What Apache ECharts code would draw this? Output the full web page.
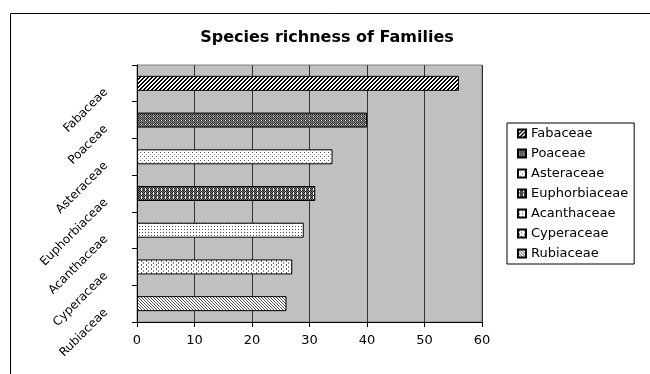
<!DOCTYPE html>
<html lang="en">
<head>
<meta charset="UTF-8">
<title>Species richness of Families</title>
<script src="https://cdn.jsdelivr.net/npm/echarts@6/dist/echarts.min.js"></script>
<style>
  html, body { margin: 0; padding: 0; background: #fff; }
  #main { width: 650px; height: 374px; }
</style>
</head>
<body>
<div id="main"></div>
<script>
var families = ['Fabaceae', 'Poaceae', 'Asteraceae', 'Euphorbiaceae', 'Acanthaceae', 'Cyperaceae', 'Rubiaceae'];
var counts = [56, 40, 34, 31, 29, 27, 26];
var xTicks = [0, 10, 20, 30, 40, 50, 60];

var FONT = 'DejaVu Sans, Verdana, sans-serif';

// small pixel tiles to imitate the excel fill patterns
function tile(w, h, bg, fn) {
    var c = document.createElement('canvas');
    c.width = w; c.height = h;
    var ctx = c.getContext('2d');
    ctx.fillStyle = bg;
    ctx.fillRect(0, 0, w, h);
    for (var y = 0; y < h; y++) {
        for (var x = 0; x < w; x++) {
            var col = fn(x, y);
            if (col) { ctx.fillStyle = col; ctx.fillRect(x, y, 1, 1); }
        }
    }
    return { image: c, repeat: 'repeat' };
}

var patterns = [
    // wide forward diagonal
    tile(4, 4, '#fff', function (x, y) { return ((x + y) % 4 < 2) ? '#000' : null; }),
    // dark checker
    tile(4, 4, '#8a8a8a', function (x, y) {
        if ((x + y) % 2 === 0 && y % 2 === 0) return '#222';
        if ((x + y) % 2 === 0) return '#444';
        if (x === 1 && y === 0) return '#eee';
        return null;
    }),
    // light sparse dots
    tile(4, 4, '#fff', function (x, y) {
        if (x === 0 && y === 0) return '#555';
        if (x === 2 && y === 2) return '#999';
        return null;
    }),
    // dark with light dashes
    tile(4, 4, '#777', function (x, y) {
        if (x === 1 && y < 3) return '#eee';
        if ((x + y) % 2 === 0) return '#222';
        return null;
    }),
    // small dots
    tile(3, 3, '#fff', function (x, y) { return (x === 1 && y === 1) ? '#444' : null; }),
    // vertical gray dashes
    tile(5, 4, '#fff', function (x, y) {
        if (x === 1 && y < 2) return '#666';
        if (x === 3 && y >= 2) return '#888';
        return null;
    }),
    // thin back diagonal
    tile(3, 3, '#fff', function (x, y) { return ((x - y + 3) % 3 === 0) ? '#555' : null; })
];

var chart = echarts.init(document.getElementById('main'));

var series = families.map(function (name, i) {
    var d = families.map(function (f, j) { return j === i ? counts[i] : '-'; });
    return {
        name: name,
        type: 'bar',
        stack: 'all',
        barWidth: 15,
        data: d,
        itemStyle: { color: patterns[i], borderColor: '#000', borderWidth: 1 }
    };
});

var option = {
    animation: false,
    backgroundColor: '#fff',
    title: {
        text: 'Species richness of Families',
        left: 322,
        top: 25,
        textAlign: 'center',
        textStyle: { fontFamily: FONT, fontSize: 16, fontWeight: 'bold', color: '#000' }
    },
    graphic: [{
        type: 'rect',
        shape: { x: 10.5, y: 13.5, width: 700, height: 400 },
        style: { fill: 'none', stroke: '#000', lineWidth: 1 },
        silent: true
    }],
    grid: {
        left: 137, top: 65, width: 345, height: 257,
        show: true,
        backgroundColor: '#c0c0c0',
        borderColor: '#808080',
        borderWidth: 1
    },
    legend: {
        orient: 'vertical',
        left: 507,
        top: 123,
        padding: [3, 6, 3, 10],
        backgroundColor: '#fff',
        borderColor: '#000',
        borderWidth: 1,
        borderRadius: 0,
        itemWidth: 8,
        itemHeight: 8,
        itemGap: 5,
        icon: 'rect',
        textStyle: { fontFamily: FONT, fontSize: 13, color: '#000', lineHeight: 15 },
        data: families
    },
    xAxis: {
        type: 'value',
        min: xTicks[0],
        max: xTicks[xTicks.length - 1],
        interval: 10,
        axisLine: { show: true, lineStyle: { color: '#000', width: 1 } },
        axisTick: { show: true, length: 5, lineStyle: { color: '#000' } },
        axisLabel: { margin: 12, fontFamily: FONT, fontSize: 13, color: '#000' },
        splitLine: { show: true, lineStyle: { color: '#333', width: 1 } }
    },
    yAxis: {
        type: 'category',
        inverse: true,
        data: families,
        axisLine: { show: true, lineStyle: { color: '#000', width: 1 } },
        axisTick: { show: true, length: 5, lineStyle: { color: '#000' } },
        axisLabel: { rotate: 45, margin: 24, padding: [0, 10, 0, 0], fontFamily: FONT, fontSize: 12, color: '#000' },
        splitLine: { show: false }
    },
    series: series
};

chart.setOption(option);
</script>
</body>
</html>
